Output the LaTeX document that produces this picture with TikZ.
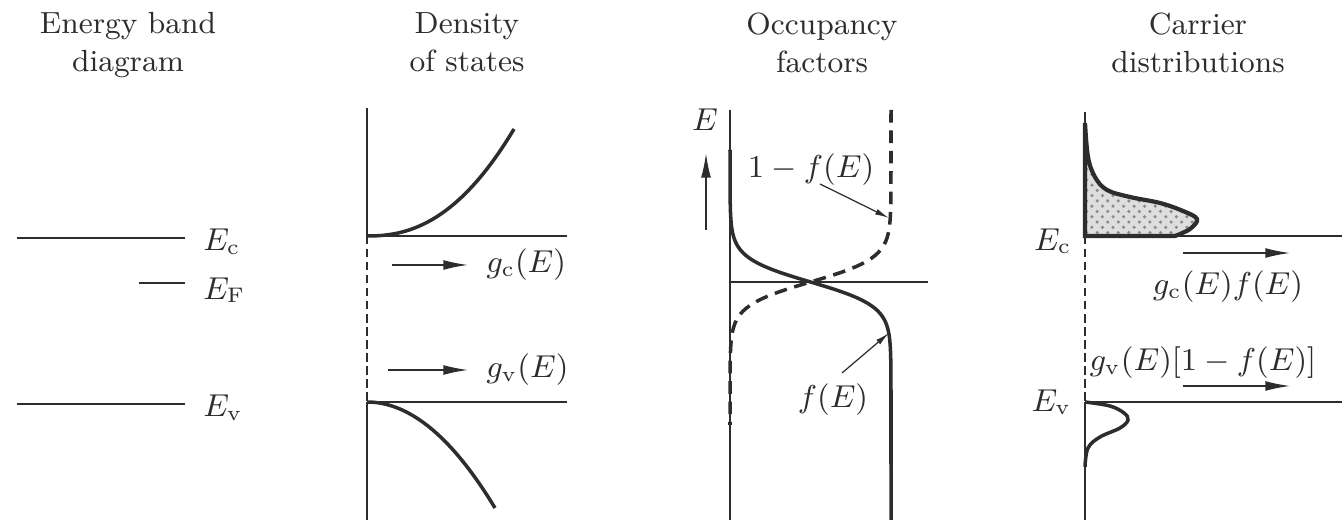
\documentclass[tikz,border=0pt]{standalone}
\usepackage{tikz}
\usetikzlibrary{arrows.meta, positioning, patterns}
\definecolor{ink}{RGB}{45,45,45}
\definecolor{stipple}{RGB}{222,222,222}

\begin{document}
\begin{tikzpicture}[
    x=0.01cm, y=-0.01cm,
    every node/.style={font=\fontsize{9}{11}\selectfont, text=ink, inner sep=0pt},
    title/.style={align=center, anchor=north, font=\fontsize{8.7}{10.8}\selectfont},
    level/.style={draw=ink, line width=0.8pt},
    axis/.style={draw=ink, line width=0.7pt},
    gapline/.style={draw=ink, line width=0.4pt, dash pattern=on 2.4pt off 1.3pt},
    curve/.style={draw=ink, line width=1pt},
    dcurve/.style={draw=ink, line width=1pt, dash pattern=on 3.6pt off 2.2pt},
    arrow/.style={-{Latex[length=7pt,width=2.8pt]}, draw=ink, line width=0.4pt},
    pointer/.style={-{Latex[length=4pt,width=1.7pt]}, draw=ink, line width=0.35pt}
]
    \useasboundingbox (0,0) rectangle (1342,528);

    \node (tband) [title] at (128,12) {Energy band\\diagram};
    \node (tdos) [title] at (467,12) {Density\\of states};
    \node (tocc) [title] at (822,12) {Occupancy\\factors};
    \node (tcar) [title] at (1198,12) {Carrier\\distributions};

    % energy band diagram
    \coordinate (ecl) at (17,238);
    \coordinate (ecr) at (185,238);
    \coordinate (efl) at (139,283);
    \coordinate (efr) at (185,283);
    \coordinate (evl) at (17,404);
    \coordinate (evr) at (185,404);
    \draw [level] (ecl) -- (ecr);
    \draw [level] (efl) -- (efr);
    \draw [level] (evl) -- (evr);
    \node (ec) [right=5pt of ecr, yshift=-1pt] {$E_\mathrm{c}$};
    \node (ef) [right=5pt of efr, yshift=-2pt] {$E_\mathrm{F}$};
    \node (ev) [right=5pt of evr, yshift=-1pt] {$E_\mathrm{v}$};

    % density of states
    \draw [axis] (367,108) -- (367,236);
    \draw [gapline] (367,236) -- (367,402);
    \draw [axis] (367,402) -- (367,520);
    \draw [axis] (367,236) -- (567,236);
    \draw [axis] (367,402) -- (567,402);
    \draw [curve] (367,236) -- plot[domain=1:147, samples=40] ({367+\x},{236-107*(\x/147)^2.3});
    \draw [curve] plot[domain=0:128, samples=40] ({367+\x},{402+106*(\x/128)^2});
    \coordinate (gcs) at (392,265);
    \coordinate (gce) at (468,265);
    \coordinate (gvs) at (388,370);
    \coordinate (gve) at (468,370);
    \draw [arrow] (gcs) -- (gce);
    \draw [arrow] (gvs) -- (gve);
    \node (gc) [right=5pt of gce] {$g_\mathrm{c}(E)$};
    \node (gv) [right=5pt of gve] {$g_\mathrm{v}(E)$};

    % occupancy factors
    \draw [axis] (730,110) -- (730,520);
    \draw [axis] (730,282) -- (928,282);
    \draw [curve] (730,150) -- plot[domain=172:392, samples=80, variable=\t] ({730+161/(1+exp((282-\t)/12))},\t) -- (891,520);
    \draw [dcurve] (891,110) -- plot[domain=172:392, samples=80, variable=\t] ({891-161/(1+exp((282-\t)/12))},\t) -- (730,425);
    \coordinate (eups) at (706,230);
    \coordinate (eupe) at (706,153);
    \draw [arrow, line width=0.5pt] (eups) -- (eupe);
    \node (elbl) at (705,120) {$E$};
    \node (onef) at (811,170) {$1-f(E)$};
    \coordinate (onefs) at (820,184);
    \coordinate (onefe) at (889,218);
    \draw [pointer] (onefs) -- (onefe);
    \node (flbl) at (833,400) {$f(E)$};
    \coordinate (fs) at (842,373);
    \coordinate (fe) at (889,333);
    \draw [pointer] (fs) -- (fe);

    % carrier distributions
    \draw [axis] (1085,112) -- (1085,236);
    \draw [gapline] (1085,236) -- (1085,402);
    \draw [axis] (1085,402) -- (1085,520);
    \draw [axis] (1085,236) -- (1342,236);
    \draw [axis] (1085,402) -- (1342,402);
    \draw [draw=ink, line width=1.2pt, preaction={fill=stipple}, pattern=crosshatch dots, pattern color=ink!55]
        plot[smooth, tension=0.6] coordinates {(1085,123) (1088,157) (1095,177) (1107,190) (1130,197) (1160,203) (1183,211) (1197,219) (1190,229) (1175,236)} -- (1085,236) -- cycle;
    \draw [curve]
        plot[smooth, tension=0.6] coordinates {(1085,402) (1110,406) (1124,413) (1128,420) (1120,428) (1100,437) (1088,448) (1085,467)};
    \node (ec2) [anchor=east] at (1072,241) {$E_\mathrm{c}$};
    \node (ev2) [anchor=east] at (1072,402) {$E_\mathrm{v}$};
    \coordinate (ncs) at (1183,253);
    \coordinate (nce) at (1290,253);
    \coordinate (pvs) at (1183,386);
    \coordinate (pve) at (1290,386);
    \draw [arrow] (ncs) -- (nce);
    \draw [arrow] (pvs) -- (pve);
    \node (nlbl) at (1228,287) {$g_\mathrm{c}(E)f(E)$};
    \node (plbl) at (1203,363) {$g_\mathrm{v}(E)[1-f(E)]$};
\end{tikzpicture}
\end{document}
